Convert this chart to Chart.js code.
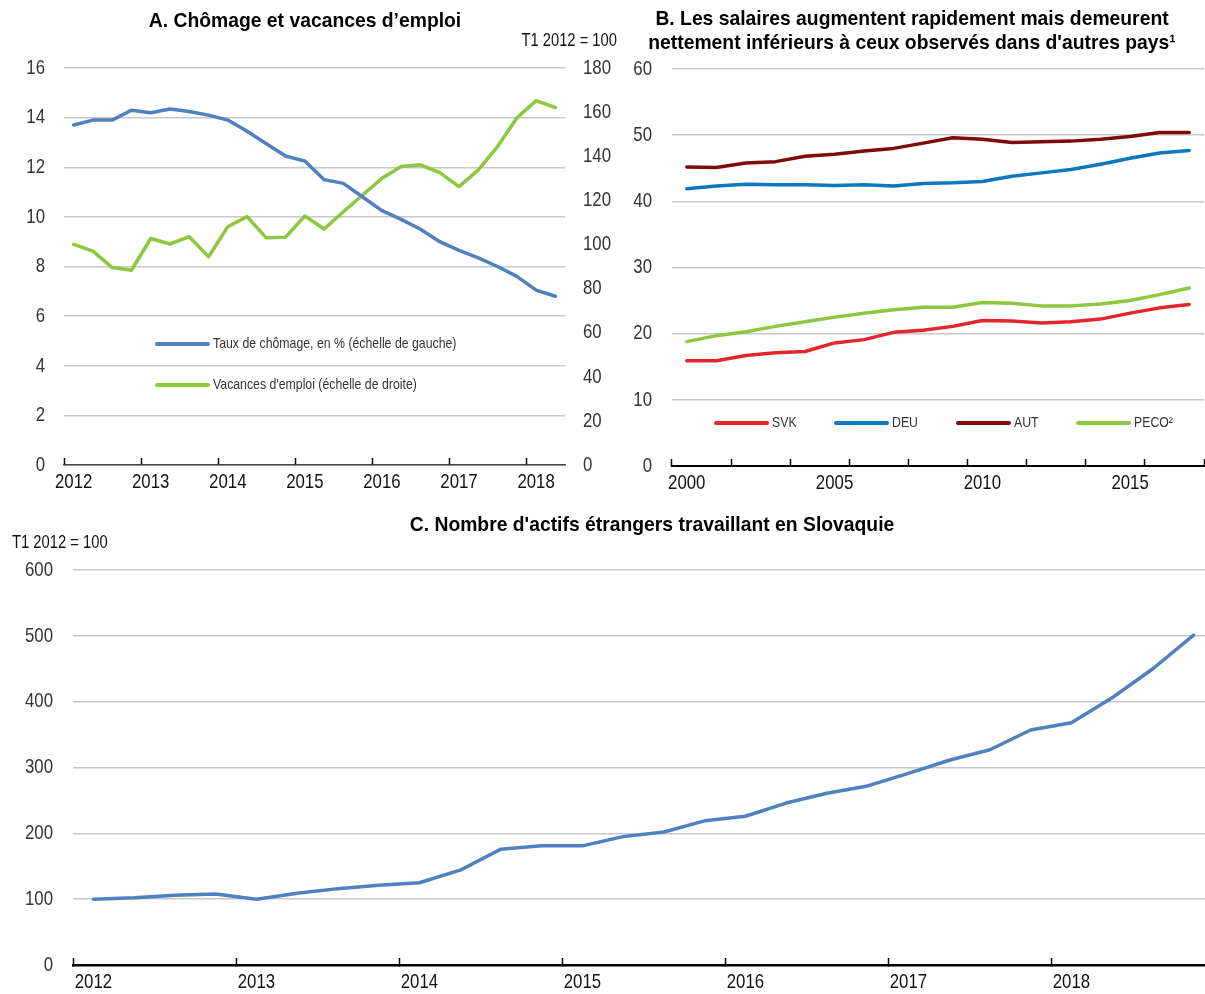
<!DOCTYPE html>
<html>
<head>
<meta charset="utf-8">
<script src="https://cdn.jsdelivr.net/npm/chart.js@4.4.1/dist/chart.umd.min.js"></script>
<style>
html, body { margin: 0; padding: 0; background: #fff; overflow: hidden; width: 1205px; height: 994px; }
.panel { position: absolute; }
</style>
</head>
<body>
<div class="panel" style="left:0;top:0"><canvas id="chartA" width="620" height="500"></canvas></div>
<div class="panel" style="left:620px;top:0"><canvas id="chartB" width="585" height="500"></canvas></div>
<div class="panel" style="left:0;top:500px"><canvas id="chartC" width="1215" height="494"></canvas></div>
<script>
// ---- data ----
var yearsA = ['2012', '2013', '2014', '2015', '2016', '2017', '2018'];
var quartersA = [];   // T1 2012 .. T2 2018
yearsA.forEach(function (y) {
    ['T1', 'T2', 'T3', 'T4'].forEach(function (q) { quartersA.push(q + ' ' + y); });
});
quartersA = quartersA.slice(0, 26);

var unemployment = [13.7, 13.9, 13.9, 14.3, 14.2, 14.35, 14.25, 14.1,
                    13.9, 13.45, 12.95, 12.45, 12.25, 11.5, 11.35, 10.8,
                    10.25, 9.9, 9.5, 9.0, 8.65, 8.35, 8.0, 7.6,
                    7.05, 6.8];
var vacancies = [100, 97, 89.5, 88.3, 102.7, 100.2, 103.5, 94.4,
                 108, 112.6, 103, 103.3, 112.9, 107, 114.8, 122.4,
                 130, 135.3, 136.1, 132.6, 126.2, 133.8, 144.4, 157.3,
                 165.2, 162.1];

var yearsB = ['2000', '2001', '2002', '2003', '2004', '2005', '2006', '2007', '2008',
              '2009', '2010', '2011', '2012', '2013', '2014', '2015', '2016', '2017'];
var wageSVK = [15.9, 15.9, 16.7, 17.1, 17.3, 18.6, 19.1, 20.2, 20.5,
               21.1, 22.0, 21.9, 21.6, 21.8, 22.2, 23.1, 23.9, 24.4];
var wageDEU = [41.9, 42.3, 42.6, 42.5, 42.5, 42.4, 42.5, 42.3, 42.7,
               42.8, 43.0, 43.8, 44.3, 44.8, 45.6, 46.5, 47.3, 47.7];
var wageAUT = [45.2, 45.1, 45.8, 46.0, 46.8, 47.1, 47.6, 48.0, 48.8,
               49.6, 49.4, 48.9, 49.0, 49.1, 49.4, 49.8, 50.4, 50.4];
var wagePECO = [18.8, 19.7, 20.3, 21.1, 21.8, 22.5, 23.1, 23.6, 24.0,
                24.0, 24.7, 24.6, 24.2, 24.2, 24.5, 25.0, 25.9, 26.9];

var quartersC = [];   // T1 2012 .. T4 2018
yearsA.forEach(function (y) {
    ['T1', 'T2', 'T3', 'T4'].forEach(function (q) { quartersC.push(q + ' ' + y); });
});
var foreignWorkers = [100, 102, 106, 108, 100, 109, 116, 121,
                      125, 144, 176, 181, 181, 195, 202, 219,
                      226, 246, 261, 272, 291, 311, 327, 357,
                      368, 406, 450, 501];

// ---- look ----
// no Arial Narrow here, so Liberation Sans is squeezed horizontally when drawn
var FONT = "'Liberation Sans', Arial, sans-serif";
var TXT = '#333333';
var GRID = '#c8c8c8';
var NARROW = 0.8;
Chart.defaults.font.family = FONT;
Chart.defaults.color = TXT;

function squeezed(ctx, text, x, y, align, font, sx, color) {
    ctx.save();
    ctx.font = font;
    ctx.fillStyle = color;
    ctx.textAlign = align;
    ctx.textBaseline = 'middle';
    ctx.translate(x, y);
    ctx.scale(sx, 1);
    ctx.fillText(text, 0, 0);
    ctx.restore();
}

// titles, unit labels, axis labels and in-plot legends
var decor = {
    id: 'decor',
    afterDraw: function (chart, args, opts) {
        var ctx = chart.ctx;
        (opts.texts || []).forEach(function (t) {
            squeezed(ctx, t.text, t.x, t.y, t.align || 'center', t.font, t.sx || NARROW, t.color || '#000');
        });
        // tick labels from the scales
        Object.keys(opts.pads || {}).forEach(function (id) {
            var s = chart.scales[id], pad = opts.pads[id];
            s.ticks.forEach(function (t, i) {
                if (!t.label) return;
                var p = s.getPixelForTick(i);
                if (s.axis === 'x') {
                    squeezed(ctx, t.label, p, s.top + pad, 'center', '21px ' + FONT, NARROW, '#111');
                } else if (s.position === 'left') {
                    squeezed(ctx, t.label, s.right - pad, p, 'right', '21px ' + FONT, NARROW, TXT);
                } else {
                    squeezed(ctx, t.label, s.left + pad, p, 'left', '21px ' + FONT, NARROW, TXT);
                }
            });
        });
        (opts.legend || []).forEach(function (l) {
            var ds = chart.data.datasets[l.index];
            ctx.save();
            ctx.strokeStyle = ds.borderColor;
            ctx.lineWidth = 4;
            ctx.lineCap = 'round';
            ctx.beginPath();
            ctx.moveTo(l.x, l.y);
            ctx.lineTo(l.x + 51, l.y);
            ctx.stroke();
            ctx.restore();
            squeezed(ctx, ds.label, l.x + 56, l.y, 'left', '15px ' + FONT, 0.82, TXT);
        });
    }
};

function tickEvery(n, showEnd) {
    return function (c) {
        if (c.index === undefined) return showEnd ? '#000' : 'rgba(0,0,0,0)';
        return c.index % n === 0 ? '#000' : 'rgba(0,0,0,0)';
    };
}

function xAxis(labels, show, tickColor, h, borderColor, borderWidth) {
    return {
        type: 'category',
        offset: true,
        grid: { offset: true, drawOnChartArea: false, drawTicks: true, tickLength: -7,
                color: tickColor, tickColor: tickColor, tickWidth: 1.5 },
        border: { display: true, color: borderColor, width: borderWidth },
        ticks: { display: false, autoSkip: false, maxRotation: 0,
                 callback: function (v, i) { return show(labels[i]); } },
        afterFit: function (s) { s.height = h; }
    };
}

function yAxis(pos, min, max, step, w, grid) {
    return {
        position: pos, min: min, max: max,
        grid: { display: grid, color: GRID, lineWidth: 1.5, drawTicks: false },
        border: { display: false },
        ticks: { display: false, stepSize: step },
        afterFit: function (s) { s.width = w; }
    };
}

function line(label, data, color, axis) {
    return { label: label, data: data, borderColor: color, backgroundColor: color,
             borderWidth: 3.5, pointRadius: 0, tension: 0, yAxisID: axis || 'y',
             borderCapStyle: 'round', borderJoinStyle: 'round' };
}

var base = {
    responsive: false,
    animation: false,
    events: [],
    plugins: { legend: { display: false }, tooltip: { enabled: false } }
};

// ---- A ----
new Chart(document.getElementById('chartA'), {
    type: 'line',
    data: {
        labels: quartersA,
        datasets: [
            line('Taux de chômage, en % (échelle de gauche)', unemployment, '#4f81bd', 'y'),
            line("Vacances d'emploi (échelle de droite)", vacancies, '#8dc63f', 'y1')
        ]
    },
    options: Object.assign({}, base, {
        layout: { padding: { top: 68, left: 0, right: 0, bottom: 0 } },
        scales: {
            x: xAxis(quartersA, function (l) { return l.indexOf('T1') === 0 ? l.slice(3) : ''; },
                     tickEvery(4, false), 35, '#444', 1.5),
            y: yAxis('left', 0, 16, 2, 64, true),
            y1: yAxis('right', 0, 180, 20, 55, false)
        },
        plugins: Object.assign({}, base.plugins, {
            decor: {
                pads: { x: 17, y: 19, y1: 18 },
                texts: [
                    { text: 'A. Chômage et vacances d’emploi', x: 305, y: 21, font: 'bold 21px ' + FONT, sx: 0.92 },
                    { text: 'T1 2012 = 100', x: 617, y: 41, font: '18px ' + FONT, align: 'right', color: '#111', sx: 0.82 }
                ],
                legend: [ { index: 0, x: 157, y: 344 }, { index: 1, x: 157, y: 385 } ]
            }
        })
    }),
    plugins: [decor]
});

// ---- B ----
new Chart(document.getElementById('chartB'), {
    type: 'line',
    data: {
        labels: yearsB,
        datasets: [
            line('SVK', wageSVK, '#e3262d'),
            line('DEU', wageDEU, '#0b78bf'),
            line('AUT', wageAUT, '#7f0a0a'),
            line('PECO²', wagePECO, '#8dc63f')
        ]
    },
    options: Object.assign({}, base, {
        layout: { padding: { top: 69, left: 0, right: 1, bottom: 0 } },
        scales: {
            x: xAxis(yearsB, function (l) { return (+l) % 5 === 0 ? l : ''; },
                     tickEvery(2, true), 34, '#000', 2),
            y: yAxis('left', 0, 60, 10, 52, true)
        },
        plugins: Object.assign({}, base.plugins, {
            decor: {
                pads: { x: 17, y: 20 },
                texts: [
                    { text: 'B. Les salaires augmentent rapidement mais demeurent', x: 292, y: 19, font: 'bold 21px ' + FONT, sx: 0.92 },
                    { text: "nettement inférieurs à ceux observés dans d'autres pays¹", x: 292, y: 43, font: 'bold 21px ' + FONT, sx: 0.92 }
                ],
                legend: [ { index: 0, x: 96, y: 423 }, { index: 1, x: 216, y: 423 },
                          { index: 2, x: 338, y: 423 }, { index: 3, x: 458, y: 423 } ]
            }
        })
    }),
    plugins: [decor]
});

// ---- C ----
new Chart(document.getElementById('chartC'), {
    type: 'line',
    data: {
        labels: quartersC,
        datasets: [ line("Nombre d'actifs étrangers", foreignWorkers, '#4f81bd') ]
    },
    options: Object.assign({}, base, {
        layout: { padding: { top: 70, left: 0, right: 1, bottom: 0 } },
        scales: {
            x: xAxis(quartersC, function (l) { return l.indexOf('T1') === 0 ? l.slice(3) : ''; },
                     tickEvery(4, false), 29, '#000', 2.5),
            y: yAxis('left', 0, 600, 100, 73, true)
        },
        plugins: Object.assign({}, base.plugins, {
            decor: {
                pads: { x: 17, y: 20 },
                texts: [
                    { text: "C. Nombre d'actifs étrangers travaillant en Slovaquie", x: 652, y: 25, font: 'bold 21px ' + FONT, sx: 0.92 },
                    { text: 'T1 2012 = 100', x: 12, y: 43, font: '18px ' + FONT, align: 'left', color: '#111', sx: 0.82 }
                ]
            }
        })
    }),
    plugins: [decor]
});
</script>
</body>
</html>
